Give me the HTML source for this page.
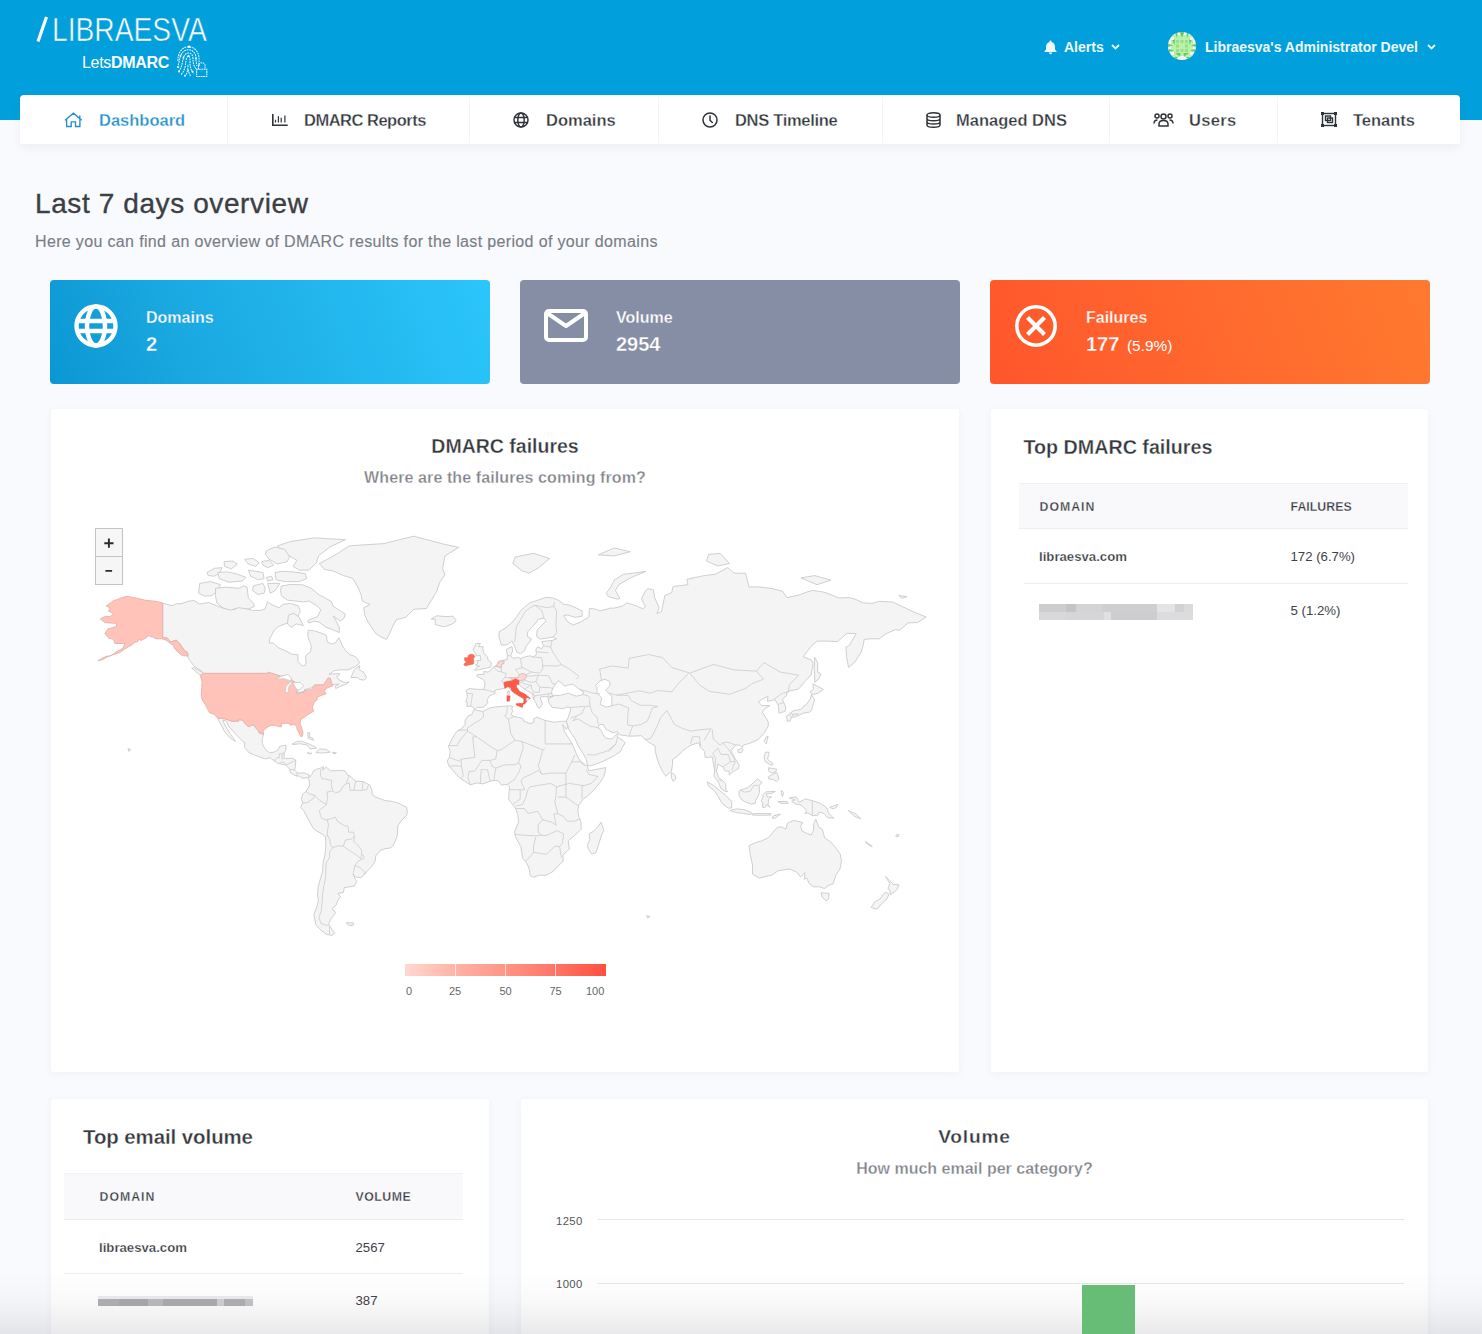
<!DOCTYPE html>
<html><head><meta charset="utf-8">
<style>
*{margin:0;padding:0;box-sizing:border-box}
html,body{width:1482px;height:1334px;overflow:hidden;background:#f9fafd;font-family:"Liberation Sans",sans-serif;color:#3b3f45}
.a{position:absolute;white-space:nowrap}
svg{position:absolute;overflow:visible}
#hdr{position:absolute;left:0;top:0;width:1482px;height:120px;background:#01a0dc}
#nav{position:absolute;left:20px;top:95px;width:1440px;height:49px;background:#fff;border-radius:4px 4px 1px 1px;box-shadow:0 4px 10px rgba(60,60,90,.06)}
.sep{position:absolute;top:2px;width:1px;height:46px;background:#f4f4f7}
.ni{position:absolute;top:110.5px;font-size:16.5px;line-height:18px;font-weight:bold;color:#33373c;white-space:nowrap;-webkit-text-stroke:0.3px #fff}
.card{position:absolute;background:#fff;border-radius:3px;box-shadow:0 2px 8px rgba(60,60,100,.05)}
.stat{position:absolute;top:280px;width:440px;height:103.5px;border-radius:4px;color:#fff}
.stat .t{position:absolute;left:96px;top:29px;font-size:16px;line-height:18px;font-weight:bold}
.stat .v{position:absolute;left:96px;top:52.5px;font-size:20px;line-height:22px;font-weight:bold}
.th{font-size:12.3px;line-height:14px;font-weight:bold;color:#33373c;-webkit-text-stroke:0.3px #f9f9fc}
.td{font-size:13.2px;line-height:15px;color:#3f4248}
.td.b{font-weight:bold;-webkit-text-stroke:0.25px #fff;color:#33373c}
.blur{position:absolute;background:linear-gradient(90deg,#d9d9dc 0%,#cfcfd3 20%,#dcdcdf 30%,#d3d3d6 60%,#e4e4e6 75%,#d5d5d8 85%,#dedee0 100%)}
</style></head><body>
<div id="hdr"></div>
<!-- logo -->
<svg style="left:0;top:0" width="60" height="50"><path d="M38 41.5 L46.5 17" stroke="#fff" stroke-width="3.2"/></svg><div class="a" style="left:52px;top:12px;font-size:33px;line-height:36px;color:#fff;transform:scaleX(0.855);transform-origin:0 0;-webkit-text-stroke:0.6px #01a0dc">LIBRAESVA</div>
<div class="a" style="left:82px;top:53.5px;font-size:16px;line-height:18px;color:#fff;letter-spacing:-0.3px">Lets<b>DMARC</b></div>
<svg style="left:176px;top:45px" width="32" height="33" viewBox="0 0 32 33">
 <g fill="none" stroke="#e6f7fd" stroke-width="1.05" stroke-dasharray="1.8 0.8">
  <path d="M2 16 C1.5 8 6 1.8 12.5 1.8 C19 1.8 23 7.5 23 14 V20.5"/>
  <path d="M1.5 22.5 C3 19 3 15 4.5 11 C6.5 6.5 9 4.8 12.5 4.8 C17 4.8 20 8.5 20 13.5 C20 16 20.5 19 21 21"/>
  <path d="M2.5 26.5 C6 23 6 18 7.5 12.5 C8.5 9.5 10.5 8 12.5 8 C15.5 8 17 10.5 17 14 C17 18 18 21.5 20 24"/>
  <path d="M5 29.5 C9 26 9.5 20 10 15.5 C10.5 12.5 11.5 11 12.8 11.2 C14.2 11.5 14 15 14 18 C14 22 15 25.5 18 28.5"/>
  <path d="M8.5 31.5 C11.5 29 12 24 12 19 M14.5 31 C13.5 29 12.5 27 12.2 24"/>
 </g>
 <g fill="#fff"><circle cx="13" cy="1.8" r="1.3"/><circle cx="4.5" cy="11" r="0.9"/><circle cx="7.5" cy="12.5" r="0.9"/><circle cx="12.5" cy="11" r="1"/><circle cx="20" cy="13.5" r="0.9"/><circle cx="2.3" cy="22.3" r="1"/><circle cx="3" cy="26.5" r="1"/><circle cx="16.5" cy="26.5" r="1"/><circle cx="9" cy="30.5" r="0.8"/><circle cx="22.8" cy="20.5" r="0.8"/></g>
 <path d="M22.5 24.2 v-3.2 a3.3 3.3 0 0 1 6.6 0 v3.2" fill="none" stroke="#e6f7fd" stroke-width="1.05" stroke-dasharray="1.6 0.7"/>
 <rect x="20.6" y="24.3" width="10.2" height="7.2" fill="none" stroke="#e6f7fd" stroke-width="1.05" stroke-dasharray="1.8 0.6"/>
</svg>
<!-- alerts -->
<svg style="left:1044px;top:40px" width="13" height="14" viewBox="0 0 13 14">
 <path d="M6.5 0.5 a1 1 0 0 1 1 1 v0.5 C9.8 2.6 11 4.5 11 7 v2.6 l1.5 1.6 v0.8 H0.5 v-0.8 L2 9.6 V7 C2 4.5 3.2 2.6 5.5 2 V1.5 a1 1 0 0 1 1-1z M4.8 12.6 h3.4 a1.7 1.7 0 0 1 -3.4 0z" fill="#eef8fd"/>
</svg>
<div class="a" style="left:1064px;top:38.5px;font-size:14px;line-height:17px;font-weight:bold;color:#eef8fd">Alerts</div>
<svg style="left:1111px;top:44px" width="9" height="6" viewBox="0 0 9 6"><path d="M1 1 L4.5 4.5 L8 1" fill="none" stroke="#eef8fd" stroke-width="1.8"/></svg>
<!-- avatar -->
<svg style="left:1168px;top:32px" width="28" height="28" viewBox="0 0 28 28">
 <defs><clipPath id="av"><circle cx="14" cy="14" r="14"/></clipPath></defs>
 <g clip-path="url(#av)">
  <rect width="28" height="28" fill="#eefcea"/>
  <rect x="3" y="3" width="22" height="22" fill="#b8f2a6"/>
  <g fill="#9ade8c"><rect x="8" y="8" width="3" height="3"/><rect x="12.5" y="8" width="3" height="3"/><rect x="17" y="8" width="3" height="3"/><rect x="8" y="12.5" width="3" height="3"/><rect x="17" y="12.5" width="3" height="3"/><rect x="8" y="17" width="3" height="3"/><rect x="12.5" y="17" width="3" height="3"/><rect x="17" y="17" width="3" height="3"/></g>
  <g fill="#6cc274">
   <path d="M11.5 0 H16.5 L14 5.5Z M7 1 L9.5 1 L9 6Z M18.5 1 L21 1 L19 6Z"/>
   <path d="M4 7.5 L7 7.5 L6.5 13Z M24 7.5 L21 7.5 L21.5 13Z"/>
   <path d="M0 11.5 L5 13.5 L0 15Z M28 11.5 L23 13.5 L28 15Z M1 17 L6 18.5 L1 20Z M27 17 L22 18.5 L27 20Z"/>
   <path d="M7 21 H12.5 L12 24.5 Z M15.5 21 H21 L16 24.5Z M6 25 L10 25 L8 28Z M18 25 L22 25 L20 28Z"/>
  </g>
  <g fill="#f6eef6"><rect x="3" y="5" width="3" height="3"/><rect x="22" y="5" width="3" height="3"/><rect x="3" y="20" width="3" height="3"/><rect x="22" y="20" width="3" height="3"/><rect x="12" y="24" width="4" height="3"/></g>
 </g>
</svg>
<div class="a" style="left:1205px;top:38.5px;font-size:14px;line-height:17px;font-weight:bold;color:#eef8fd">Libraesva's Administrator Devel</div>
<svg style="left:1427px;top:44px" width="9" height="6" viewBox="0 0 9 6"><path d="M1 1 L4.5 4.5 L8 1" fill="none" stroke="#eef8fd" stroke-width="1.8"/></svg>

<div id="nav">
 <div class="sep" style="left:207px"></div>
 <div class="sep" style="left:449px"></div>
 <div class="sep" style="left:638px"></div>
 <div class="sep" style="left:862px"></div>
 <div class="sep" style="left:1089px"></div>
 <div class="sep" style="left:1257px"></div>
</div>
<!-- nav icons & labels (absolute page coords) -->
<svg style="left:64px;top:112px" width="19" height="16" viewBox="0 0 19 16">
 <path d="M1 8.2 L9.4 1.2 L17.7 8.2 M2.6 6.8 V14.5 H7.2 V9.9 H11.5 V14.5 H15.9 V6.8 M15.8 3.4 V6.2" fill="none" stroke="#2290c9" stroke-width="1.35" stroke-linejoin="miter"/>
</svg>
<div class="ni" style="left:99px;color:#2391ca">Dashboard</div>
<svg style="left:272px;top:114px" width="16" height="12" viewBox="0 0 16 12">
 <path d="M0.8 0 V11.3 H15.7" fill="none" stroke="#2f3338" stroke-width="1.6"/><path d="M3.5 5.8 V8.6 M6.4 2.2 V8.6 M9.2 3.8 V8.6 M12.9 1.4 V8.6" fill="none" stroke="#2f3338" stroke-width="1.2"/>
</svg>
<div class="ni" style="left:304px;letter-spacing:-0.5px">DMARC Reports</div>
<svg style="left:513px;top:112px" width="16" height="16" viewBox="0 0 16 16">
 <g fill="none" stroke="#2f3338" stroke-width="1.5"><circle cx="8" cy="8" r="7"/><ellipse cx="8" cy="8" rx="3.2" ry="7"/><path d="M1 5.6 H15 M1 10.4 H15"/></g>
</svg>
<div class="ni" style="left:546px">Domains</div>
<svg style="left:702px;top:112px" width="16" height="16" viewBox="0 0 16 16">
 <g fill="none" stroke="#2f3338" stroke-width="1.5" stroke-linecap="round"><circle cx="8" cy="8" r="7"/><path d="M8 4 V8.3 L10.3 10.5"/></g>
</svg>
<div class="ni" style="left:735px;letter-spacing:-0.3px">DNS Timeline</div>
<svg style="left:926px;top:112px" width="15" height="16" viewBox="0 0 15 16">
 <g fill="none" stroke="#2f3338" stroke-width="1.5"><ellipse cx="7.5" cy="3" rx="6.5" ry="2.3"/><path d="M1 3 V13 C1 14.3 3.9 15.3 7.5 15.3 C11.1 15.3 14 14.3 14 13 V3 M1 6.4 C1 7.7 3.9 8.7 7.5 8.7 C11.1 8.7 14 7.7 14 6.4 M1 9.8 C1 11.1 3.9 12.1 7.5 12.1 C11.1 12.1 14 11.1 14 9.8"/></g>
</svg>
<div class="ni" style="left:956px;letter-spacing:0px">Managed DNS</div>
<svg style="left:1153px;top:113px" width="21" height="14" viewBox="0 0 21 14">
 <g fill="none" stroke="#2f3338" stroke-width="1.5"><circle cx="10.5" cy="3.5" r="2.5"/><circle cx="4" cy="3" r="2"/><circle cx="17" cy="3" r="2"/><path d="M6 13 V11 C6 8.8 8 7.5 10.5 7.5 C13 7.5 15 8.8 15 11 V13 Z M1 10.5 C1 8 2.5 7 4.5 7 M20 10.5 C20 8 18.5 7 16.5 7"/></g>
</svg>
<div class="ni" style="left:1189px;letter-spacing:0.3px">Users</div>
<svg style="left:1321px;top:112px" width="16" height="15" viewBox="0 0 16 15">
 <g fill="none" stroke="#2f3338" stroke-width="1.4"><rect x="1.5" y="1.5" width="13" height="12"/><rect x="4.5" y="4" width="5" height="4.5"/><rect x="6.5" y="6" width="5" height="4.5"/></g>
 <g fill="#2f3338"><rect x="0" y="0" width="3" height="3"/><rect x="13" y="0" width="3" height="3"/><rect x="0" y="12" width="3" height="3"/><rect x="13" y="12" width="3" height="3"/></g>
</svg>
<div class="ni" style="left:1353px">Tenants</div>

<div class="a" style="left:35px;top:188px;font-size:28px;line-height:32px;color:#3c3f44;letter-spacing:0.6px;-webkit-text-stroke:0.35px #3c3f44">Last 7 days overview</div>
<div class="a" style="left:35px;top:233px;font-size:16px;line-height:18px;color:#7a7e85;letter-spacing:0.35px;-webkit-text-stroke:0.15px #7a7e85">Here you can find an overview of DMARC results for the last period of your domains</div>

<div class="stat" style="left:50px;background:linear-gradient(70deg,#0b97d3 0%,#1aa8e0 30%,#2bc6fb 100%)">
  <svg style="left:24px;top:24px" width="44" height="44" viewBox="0 0 44 44">
   <g fill="none" stroke="#fff" stroke-width="4.4"><circle cx="22" cy="22" r="19.5"/><ellipse cx="22" cy="22" rx="9" ry="19.5"/><path d="M3 17 H41 M3 27 H41"/></g>
  </svg>
  <div class="t" style="-webkit-text-stroke:0.3px #1aa2dc">Domains</div><div class="v" style="-webkit-text-stroke:0.3px #1aa2dc">2</div>
</div>
<div class="stat" style="left:520px;background:#858ea4">
  <svg style="left:24px;top:29px" width="44" height="33" viewBox="0 0 44 33">
   <rect x="2" y="2" width="40" height="29" rx="3" fill="none" stroke="#fff" stroke-width="4"/>
   <path d="M3 4 L22 17 L41 4" fill="none" stroke="#fff" stroke-width="4" stroke-linejoin="round"/>
  </svg>
  <div class="t" style="-webkit-text-stroke:0.3px #858ea4">Volume</div><div class="v" style="-webkit-text-stroke:0.3px #858ea4">2954</div>
</div>
<div class="stat" style="left:990px;background:linear-gradient(70deg,#ff562c 0%,#ff7a2f 100%)">
  <svg style="left:24px;top:24px" width="44" height="44" viewBox="0 0 44 44">
   <circle cx="22" cy="22" r="19.2" fill="none" stroke="#fff" stroke-width="3.6"/>
   <path d="M15 15 L29 29 M29 15 L15 29" stroke="#fff" stroke-width="4.2" stroke-linecap="square"/>
  </svg>
  <div class="t" style="-webkit-text-stroke:0.3px #ff6230">Failures</div><div class="v" style="-webkit-text-stroke:0.3px #ff6230">177 <span style="font-size:15.4px;font-weight:normal;margin-left:2px;-webkit-text-stroke:0">(5.9%)</span></div>
</div>

<div class="card" style="left:51px;top:409px;width:908px;height:663px"></div>
<div class="card" style="left:991px;top:409px;width:437px;height:663px"></div>
<div class="card" style="left:51px;top:1099px;width:438px;height:300px"></div>
<div class="card" style="left:521px;top:1099px;width:907px;height:300px"></div>

<!-- DMARC failures card -->
<div class="a ctr" style="left:51px;width:908px;top:434.5px;font-size:19.5px;line-height:22px;font-weight:bold;color:#35393e;text-align:center;-webkit-text-stroke:0.3px #fff">DMARC failures</div>
<div class="a ctr" style="left:51px;width:908px;top:469px;font-size:16px;line-height:18px;font-weight:bold;color:#7f838a;letter-spacing:0.1px;text-align:center;-webkit-text-stroke:0.3px #fff">Where are the failures coming from?</div>
<!--MAP--><svg style="left:0;top:0" width="1482" height="1334" viewBox="0 0 1482 1334"><g fill="#f4f4f4" stroke="#cbcbcb" stroke-width="0.9" stroke-linejoin="round"><path d="M162.7 603.1 L171.9 605.7 L176.5 603.7 L181.1 603.7 L188.0 601.3 L194.0 600.5 L199.5 604.1 L208.8 602.5 L216.8 605.7 L223.7 608.5 L234.1 609.7 L238.7 606.9 L244.5 608.1 L252.5 610.4 L260.6 610.4 L265.2 608.9 L267.5 601.7 L272.1 604.9 L279.0 607.7 L282.5 604.5 L290.5 603.3 L298.6 606.1 L300.2 611.6 L297.9 616.2 L289.4 616.6 L287.6 622.9 L278.3 626.5 L274.4 630.1 L270.0 638.1 L269.1 642.8 L273.3 643.1 L279.0 648.1 L284.8 650.4 L291.7 654.2 L297.9 654.8 L298.1 661.4 L302.1 666.0 L305.1 665.4 L306.0 662.9 L305.5 655.8 L310.6 651.7 L311.3 645.8 L309.2 640.5 L307.8 636.0 L308.3 630.1 L315.9 631.2 L321.6 633.3 L326.3 635.3 L327.4 642.1 L331.3 644.1 L335.5 642.8 L338.9 637.7 L342.4 645.5 L345.6 650.7 L349.8 654.5 L355.5 656.7 L359.0 661.4 L359.2 663.5 L355.7 666.3 L348.1 669.9 L339.6 669.9 L333.9 670.8 L329.0 674.3 L339.2 673.4 L339.6 674.9 L336.6 676.3 L338.7 679.8 L345.8 682.9 L349.3 681.8 L346.5 684.1 L341.2 686.0 L335.7 688.5 L335.0 686.3 L338.9 684.1 L333.2 684.6 L331.3 682.9 L330.4 678.4 L328.1 678.1 L324.4 683.8 L322.8 684.9 L314.7 684.9 L311.3 688.8 L305.5 689.7 L303.7 692.4 L296.1 693.2 L297.5 690.5 L297.7 684.1 L292.6 680.7 L284.8 675.5 L281.1 676.3 L268.2 672.2 L268.2 673.4 L203.5 673.4 L202.5 671.7 L198.4 669.0 L193.8 666.0 L191.5 662.6 L188.0 657.7 L188.0 656.1 L187.6 652.3 L183.9 650.0 L180.2 644.1 L176.3 640.1 L170.7 642.1 L167.1 637.7 L162.7 637.7Z"/><path d="M203.5 675.5 L199.5 674.6 L191.7 668.1 L194.2 667.8 L201.8 672.2Z"/><path d="M350.9 677.5 L352.8 673.1 L355.3 668.7 L359.7 665.7 L359.0 669.6 L364.0 672.5 L365.9 676.3 L366.3 677.8 L364.3 680.1 L359.7 679.5 L357.4 677.5Z"/><path d="M319.3 563.5 L335.5 554.9 L349.3 545.8 L383.9 543.6 L413.8 536.2 L441.5 543.6 L458.7 547.4 L444.9 555.9 L442.6 568.5 L444.9 574.7 L439.6 582.5 L436.8 591.2 L431.8 599.6 L426.5 608.5 L413.8 609.3 L405.7 617.3 L396.5 619.6 L392.6 626.5 L389.2 634.7 L386.4 639.4 L380.4 636.7 L375.8 633.6 L371.2 626.5 L368.0 622.2 L364.7 614.7 L363.8 607.7 L370.0 604.5 L362.0 600.9 L361.3 595.5 L358.5 588.2 L352.8 578.4 L343.5 575.6 L332.7 570.9 L324.4 569.4Z"/><path d="M435.2 619.2 L431.1 619.2 L436.8 615.8 L446.1 616.6 L453.0 616.2 L456.2 620.7 L453.0 623.6 L444.4 626.9 L437.8 625.4 L435.2 624.4Z"/><path d="M217.7 718.2 L223.0 718.2 L231.8 721.2 L238.2 721.2 L238.2 719.9 L242.2 719.9 L246.8 725.4 L249.5 726.9 L250.9 725.2 L253.9 724.9 L256.4 728.7 L258.3 730.6 L259.0 732.8 L263.6 734.4 L262.4 738.4 L262.2 743.2 L263.4 746.3 L266.4 750.3 L269.6 752.9 L274.4 752.0 L278.3 749.9 L279.5 746.3 L285.9 745.1 L285.9 749.9 L284.3 752.9 L284.1 757.1 L285.2 758.5 L292.9 758.3 L295.8 760.4 L295.2 767.4 L294.7 769.7 L297.5 773.1 L304.4 772.9 L309.2 774.9 L309.7 776.8 L307.4 777.7 L302.3 778.2 L299.8 776.3 L294.9 775.6 L290.1 772.2 L289.9 769.2 L285.5 765.0 L280.6 763.9 L276.7 762.7 L274.4 760.9 L269.8 757.6 L265.2 758.8 L260.6 757.4 L253.7 754.6 L249.1 752.7 L244.5 747.5 L244.9 742.7 L242.4 741.1 L237.6 736.2 L232.9 730.6 L229.0 726.9 L226.7 721.4 L223.0 719.9 L223.5 722.4 L226.7 728.2 L230.6 734.3 L233.6 738.7 L235.5 741.3 L233.6 740.6 L229.3 737.2 L224.2 730.9 L221.2 724.9 L218.7 720.4Z"/><path d="M291.9 744.2 L297.5 741.3 L302.1 741.3 L309.7 744.4 L313.4 746.1 L316.6 748.2 L309.9 748.9 L307.4 745.1 L299.8 743.7 L295.2 744.4Z"/><path d="M316.1 752.2 L319.8 748.9 L326.3 749.4 L330.2 752.2 L324.9 752.9 L320.5 752.9 L316.1 752.7Z"/><path d="M307.1 752.7 L312.0 753.4 L309.7 754.1Z"/><path d="M332.7 752.2 L336.4 752.7 L335.5 753.6 L332.7 753.4Z"/><path d="M307.8 732.3 L310.1 733.1 L309.0 736.7 L312.4 737.9 L313.6 740.3 L308.3 738.4Z"/><path d="M128.1 748.2 L130.9 749.9 L128.6 751.3Z"/><path d="M309.7 776.8 L311.3 775.4 L313.6 770.8 L316.6 769.2 L321.2 767.8 L323.5 766.4 L322.6 770.1 L326.3 766.9 L330.4 770.8 L335.5 770.6 L341.9 770.4 L345.1 770.8 L347.5 775.2 L349.8 775.9 L355.7 781.1 L363.1 781.6 L367.7 783.9 L370.0 785.2 L371.9 790.7 L372.3 794.8 L375.8 797.1 L385.0 800.5 L391.9 801.4 L398.8 803.2 L406.4 807.3 L407.4 811.2 L406.7 815.3 L402.1 819.9 L397.9 825.5 L397.4 835.0 L395.4 840.9 L393.1 845.7 L390.8 847.8 L385.0 848.8 L380.4 850.4 L375.8 855.8 L375.1 861.4 L371.9 866.4 L367.3 870.9 L364.5 874.5 L361.0 877.5 L358.1 877.5 L354.4 876.3 L353.0 874.0 L355.3 879.1 L356.9 881.4 L354.4 886.1 L344.2 887.7 L343.5 892.3 L337.8 893.6 L340.5 896.6 L337.8 900.5 L336.4 904.7 L332.0 908.6 L335.7 912.7 L331.3 918.5 L328.6 923.6 L329.9 926.3 L334.6 933.2 L332.0 935.4 L326.3 934.4 L320.5 929.7 L315.9 925.1 L313.8 914.7 L316.6 907.5 L318.4 900.5 L317.5 895.0 L318.2 886.9 L320.3 879.1 L322.6 871.4 L323.0 862.7 L325.1 854.1 L325.8 845.7 L325.6 837.1 L322.8 834.5 L314.3 829.6 L311.7 825.7 L307.4 817.6 L303.7 810.7 L300.5 807.3 L302.8 802.8 L301.4 798.2 L303.2 793.7 L306.0 791.4 L309.4 786.1 L309.2 780.0 L308.1 778.4Z"/><path d="M346.3 922.7 L353.9 923.0 L352.8 925.7 L348.1 925.1Z"/><path d="M473.9 709.7 L482.9 711.5 L489.8 707.9 L494.4 707.1 L502.5 706.3 L510.1 705.8 L513.1 706.6 L511.5 708.4 L512.9 711.3 L511.0 714.4 L514.0 716.6 L518.6 717.4 L522.8 718.7 L523.9 721.2 L530.2 723.7 L533.8 722.2 L533.6 718.9 L537.1 717.2 L541.0 718.9 L545.1 720.4 L554.3 722.2 L561.3 721.4 L566.3 721.2 L567.9 725.7 L566.6 729.4 L562.6 724.7 L564.7 731.9 L569.3 739.1 L573.2 746.3 L576.2 753.4 L579.0 759.5 L583.1 763.0 L587.3 766.2 L588.9 770.8 L597.0 769.2 L605.7 767.6 L605.3 771.0 L603.9 776.6 L599.3 783.4 L594.7 789.1 L587.7 795.9 L583.1 799.3 L578.8 805.0 L577.8 810.7 L579.0 817.6 L580.8 821.1 L581.3 829.2 L573.9 836.2 L568.2 840.9 L569.3 849.2 L563.1 854.8 L563.1 861.4 L559.0 865.1 L553.2 871.4 L546.3 875.2 L539.4 875.2 L533.6 877.3 L530.2 875.7 L529.5 870.1 L527.2 863.9 L522.5 857.7 L520.9 846.8 L515.2 836.2 L514.7 831.5 L518.6 822.2 L517.9 815.3 L515.6 808.5 L508.7 799.3 L509.0 792.5 L509.6 786.8 L507.1 784.5 L501.4 785.0 L497.9 780.4 L491.0 780.9 L482.9 783.9 L477.2 782.9 L470.3 784.8 L464.5 781.1 L461.0 778.8 L457.1 775.4 L451.8 769.0 L449.1 766.4 L447.2 761.1 L449.5 756.9 L450.2 751.0 L448.4 746.3 L452.5 737.9 L456.4 731.9 L461.5 728.9 L465.2 724.4 L465.0 720.4 L467.9 716.1 L471.9 714.4Z"/><path d="M601.1 822.2 L603.9 830.3 L601.6 835.0 L598.6 844.5 L596.0 852.6 L591.7 854.1 L588.2 849.0 L587.5 844.5 L589.8 839.7 L589.1 833.8 L593.5 831.3 L597.9 826.8Z"/><path d="M474.6 709.2 L473.0 707.1 L470.5 706.1 L467.0 706.6 L467.3 702.1 L465.6 701.8 L467.3 697.3 L467.0 693.2 L466.1 690.5 L469.1 688.5 L477.2 689.4 L483.4 689.4 L484.8 686.0 L484.8 681.5 L482.2 678.9 L476.7 676.3 L477.2 674.6 L484.1 674.3 L483.8 671.4 L488.0 672.2 L491.0 669.9 L493.3 667.2 L496.7 666.3 L498.6 661.7 L503.4 660.2 L507.1 659.5 L507.3 655.2 L506.4 649.4 L512.0 646.5 L512.6 651.0 L510.6 655.8 L512.9 658.3 L518.6 657.4 L520.5 658.6 L525.5 656.7 L530.2 655.8 L533.1 657.0 L536.4 654.5 L535.9 649.4 L537.5 646.8 L541.7 648.7 L543.5 645.8 L541.7 641.5 L552.0 640.5 L556.6 638.8 L553.2 637.1 L540.1 639.1 L536.6 636.4 L537.1 630.1 L546.0 621.1 L544.0 618.1 L538.2 619.2 L535.9 622.9 L531.3 627.6 L527.8 631.9 L527.2 636.4 L531.3 638.8 L530.2 641.1 L525.5 647.1 L524.9 650.4 L520.5 653.6 L517.0 652.3 L514.7 646.5 L512.0 641.1 L507.1 644.8 L501.4 645.1 L499.0 637.1 L499.0 631.9 L506.0 627.6 L511.7 622.9 L516.3 617.3 L520.9 610.4 L524.4 607.3 L530.2 602.5 L535.9 600.9 L546.3 597.2 L553.2 598.0 L559.0 600.5 L563.6 604.1 L570.5 605.3 L582.0 610.8 L582.0 616.2 L575.1 617.3 L567.7 615.1 L563.6 615.4 L567.0 621.1 L572.8 625.1 L579.7 622.5 L588.9 617.0 L589.4 608.5 L594.7 608.9 L600.4 610.8 L610.8 608.1 L614.2 608.1 L622.3 606.1 L626.9 602.9 L636.1 605.7 L643.0 608.9 L645.3 606.5 L641.4 598.8 L645.3 591.2 L647.7 588.6 L653.4 589.9 L654.6 597.6 L659.2 607.7 L656.9 613.5 L661.5 611.6 L664.9 595.5 L671.8 592.5 L673.0 586.5 L688.0 584.7 L686.8 579.3 L704.1 575.6 L715.6 574.2 L727.8 567.5 L734.0 573.2 L745.6 573.2 L749.0 586.9 L759.4 586.9 L772.1 588.6 L782.4 591.2 L787.0 597.6 L798.6 595.1 L807.8 591.7 L812.4 590.4 L823.9 592.1 L833.1 595.5 L838.9 598.0 L849.2 597.6 L856.2 599.6 L863.1 602.9 L872.3 603.3 L879.2 601.3 L893.0 602.1 L902.2 606.5 L913.8 612.0 L926.0 617.0 L917.2 622.9 L916.7 622.5 L908.0 622.9 L899.9 630.1 L895.3 629.7 L886.1 633.6 L879.2 638.8 L870.0 638.8 L864.2 639.4 L863.1 645.5 L861.2 652.0 L855.0 662.0 L848.6 667.5 L846.5 656.7 L846.0 647.1 L849.2 645.5 L856.2 633.6 L846.9 633.3 L837.7 641.5 L826.2 641.1 L817.0 641.1 L811.2 646.1 L803.2 656.7 L811.2 659.9 L813.1 663.5 L811.2 674.9 L805.5 680.7 L798.6 689.1 L791.2 690.5 L787.0 691.9 L786.3 695.9 L782.4 699.2 L785.7 707.1 L785.2 711.3 L779.0 713.3 L778.5 707.1 L778.1 704.8 L775.1 699.7 L767.5 701.3 L767.9 696.2 L762.8 698.9 L758.5 701.6 L761.5 705.5 L770.0 705.5 L764.7 708.9 L762.4 712.3 L766.1 717.9 L768.4 722.2 L768.1 726.4 L764.0 733.1 L758.2 739.6 L750.2 743.2 L743.3 745.1 L742.1 747.5 L739.8 745.1 L735.9 745.1 L733.1 748.0 L731.1 751.3 L734.5 757.4 L739.1 765.0 L738.7 768.5 L733.4 771.3 L729.4 774.9 L729.0 771.3 L724.8 770.8 L723.2 766.9 L720.0 765.5 L718.2 763.9 L716.3 770.8 L717.5 773.8 L718.8 777.9 L721.4 779.5 L725.8 783.9 L725.8 789.6 L727.6 791.6 L726.0 791.8 L720.9 788.4 L718.8 782.9 L714.0 776.1 L714.7 770.8 L712.9 760.4 L712.4 756.9 L705.2 757.6 L704.6 751.5 L700.4 747.3 L699.0 742.7 L696.0 743.5 L691.4 744.9 L687.7 747.3 L682.9 750.6 L677.1 756.7 L672.5 759.5 L672.5 764.6 L671.4 771.3 L667.7 774.5 L666.1 776.3 L663.1 772.4 L659.6 765.5 L656.9 758.1 L655.3 751.0 L655.0 745.8 L648.8 742.3 L646.0 739.9 L641.2 735.7 L635.0 736.0 L629.2 736.2 L619.5 734.8 L617.2 731.6 L613.1 732.8 L606.2 729.6 L603.0 724.2 L599.3 724.7 L598.3 726.9 L601.8 731.9 L604.6 737.2 L606.4 738.4 L611.9 738.9 L617.2 733.6 L617.5 737.2 L622.8 740.3 L625.3 743.0 L622.1 747.5 L620.5 751.5 L614.2 755.7 L607.8 759.0 L600.4 762.5 L591.7 765.5 L587.7 766.0 L586.1 759.2 L583.1 753.4 L577.8 745.1 L575.1 738.7 L571.9 734.5 L568.6 729.2 L567.9 725.7 L566.3 721.2 L568.2 717.4 L570.2 711.0 L570.9 707.6 L567.0 707.1 L562.4 708.9 L557.8 707.9 L552.0 707.4 L548.8 702.4 L548.1 698.6 L554.1 695.9 L547.7 697.0 L542.8 696.5 L540.1 697.3 L542.4 704.0 L539.6 708.2 L537.5 706.9 L536.1 703.2 L533.8 699.7 L532.5 693.8 L524.4 689.1 L518.9 684.6 L515.9 684.1 L516.6 687.4 L519.6 691.6 L523.5 693.5 L530.2 698.4 L525.5 701.6 L523.7 704.0 L523.7 698.6 L520.2 696.5 L515.6 693.8 L511.7 690.8 L507.8 686.6 L504.8 688.3 L499.0 689.4 L494.9 690.2 L494.9 693.5 L489.6 695.9 L486.8 700.0 L488.0 702.1 L485.9 705.0 L482.7 707.4 L477.4 707.4Z"/><path d="M474.4 670.2 L479.5 669.6 L485.2 668.4 L490.8 666.9 L491.4 662.6 L488.2 660.2 L487.3 656.7 L483.8 653.3 L482.7 648.4 L483.4 646.8 L478.3 646.5 L480.4 643.5 L476.0 643.5 L474.4 647.1 L473.2 650.4 L475.8 653.6 L476.0 655.8 L480.2 655.5 L480.6 658.6 L480.6 660.5 L476.9 660.5 L477.9 663.5 L475.3 665.1 L479.7 666.3 L477.2 666.9Z"/><path d="M512.9 563.5 L522.1 570.9 L529.0 573.2 L538.2 568.0 L549.7 558.5 L533.6 553.3 L515.2 557.0Z"/><path d="M608.5 596.7 L617.7 599.2 L620.0 598.4 L615.4 590.4 L618.9 584.7 L630.4 577.9 L646.0 571.3 L636.1 572.8 L623.5 574.2 L614.2 580.2 L610.8 586.9 L606.2 593.4Z"/><path d="M706.4 561.0 L717.9 566.0 L729.4 563.5 L720.2 553.3 L708.7 554.4Z"/><path d="M800.9 577.9 L817.0 584.7 L830.8 580.2 L814.7 575.6Z"/><path d="M898.8 595.5 L906.8 596.7 L902.2 598.4Z"/><path d="M598.1 554.9 L614.2 555.9 L630.4 551.7 L614.2 548.0Z"/><path d="M814.7 657.4 L817.7 662.9 L817.7 672.2 L820.9 674.0 L818.1 679.8 L814.7 682.1 L814.7 674.9 L814.2 667.5Z"/><path d="M812.8 683.8 L823.4 689.4 L818.1 693.2 L812.4 694.6 L810.1 691.9 L813.5 689.1Z"/><path d="M811.5 694.6 L814.7 700.0 L812.4 706.6 L811.9 710.0 L809.6 712.0 L803.2 713.1 L798.6 715.6 L792.8 714.4 L789.3 713.6 L793.9 710.5 L800.9 709.5 L803.2 706.6 L806.6 704.2 L810.1 699.2Z"/><path d="M789.1 714.4 L791.6 716.9 L790.3 720.9 L787.5 721.4 L786.3 716.4Z"/><path d="M792.8 714.4 L797.9 713.8 L796.7 716.4 L792.8 717.4Z"/><path d="M768.1 736.2 L766.3 743.9 L764.2 741.5 L765.8 737.2Z"/><path d="M737.7 749.9 L741.7 748.4 L743.3 749.9 L741.0 752.9 L738.0 752.2Z"/><path d="M671.4 772.4 L675.3 775.4 L676.0 778.8 L673.0 781.4 L671.4 777.7Z"/><path d="M765.4 752.2 L769.1 752.2 L768.6 755.7 L767.5 759.2 L773.2 763.9 L772.1 765.5 L765.4 762.0 L764.0 758.1Z"/><path d="M768.6 776.6 L776.7 772.4 L779.0 778.8 L776.7 781.6 L773.2 779.5 L768.6 778.8Z"/><path d="M768.6 767.8 L773.2 768.5 L776.7 769.2 L775.5 772.0 L770.9 773.1 L768.6 770.8Z"/><path d="M707.1 782.0 L713.3 785.2 L719.1 790.2 L726.4 795.9 L731.7 801.6 L731.5 808.0 L728.3 808.2 L722.5 803.9 L718.6 797.1 L714.5 790.9 L708.7 786.4Z"/><path d="M729.9 810.3 L736.4 808.9 L743.3 809.6 L751.3 812.3 L751.1 814.6 L743.3 813.5 L736.4 812.6 L730.6 810.7Z"/><path d="M752.5 813.7 L761.7 813.5 L770.9 813.5 L770.9 815.1 L761.7 815.3 L752.5 815.1Z"/><path d="M773.2 816.0 L780.6 813.9 L775.5 818.1 L772.1 818.3Z"/><path d="M739.1 791.4 L740.0 790.0 L744.0 789.1 L747.9 787.5 L753.6 782.7 L757.5 778.8 L762.2 782.7 L759.2 785.2 L759.4 792.5 L758.2 795.9 L755.7 800.5 L755.2 803.4 L751.3 804.1 L744.4 801.6 L741.2 799.1 L738.9 795.5Z"/><path d="M762.8 794.8 L765.8 791.8 L775.3 791.4 L770.9 793.7 L766.3 793.7 L767.5 797.1 L771.6 796.8 L768.6 799.3 L768.1 805.0 L770.0 807.3 L766.8 804.6 L764.9 807.5 L762.6 807.3 L762.8 802.8 L761.2 801.2 L763.1 797.1Z"/><path d="M781.3 790.2 L783.6 792.5 L782.4 796.6 L781.3 793.7Z"/><path d="M777.8 801.6 L787.0 801.4 L788.2 803.4 L781.3 803.4Z"/><path d="M789.3 798.0 L796.3 796.8 L799.2 802.3 L805.5 798.9 L812.4 800.7 L820.4 803.4 L826.9 808.0 L828.5 813.0 L833.8 818.3 L827.4 817.6 L823.9 813.5 L819.3 812.1 L817.7 815.3 L812.4 815.6 L807.8 813.0 L805.0 813.7 L806.6 810.3 L800.9 805.0 L795.1 803.9 L791.6 801.2 L795.1 799.8Z"/><path d="M829.7 807.3 L837.7 804.4 L836.6 807.3 L833.1 808.9Z"/><path d="M848.1 810.3 L856.2 814.2 L860.8 818.8 L853.9 816.0Z"/><path d="M749.0 845.7 L750.4 855.3 L752.5 865.1 L752.5 874.2 L759.2 878.1 L772.1 875.0 L777.8 870.9 L789.3 868.9 L796.7 872.2 L800.6 877.0 L805.0 872.7 L804.3 879.3 L806.6 877.8 L809.4 883.8 L813.5 886.7 L819.3 886.9 L824.6 888.5 L829.0 885.1 L833.1 883.8 L835.9 875.0 L840.0 868.9 L841.4 861.4 L840.3 854.1 L835.0 846.8 L830.8 842.1 L824.6 837.8 L822.3 829.2 L818.8 827.3 L815.8 819.2 L813.8 823.6 L813.5 830.3 L811.2 835.0 L807.8 833.8 L802.0 831.0 L800.6 825.7 L802.7 822.7 L793.9 820.4 L787.5 823.1 L785.9 828.9 L781.3 826.8 L777.1 827.5 L771.6 833.8 L768.6 837.4 L761.7 840.9 L756.4 842.3Z"/><path d="M820.9 892.8 L829.2 893.4 L828.5 899.1 L826.0 900.8 L822.3 897.2Z"/><path d="M885.4 876.3 L889.6 880.4 L893.0 884.3 L898.8 884.8 L897.4 889.1 L894.9 891.5 L890.5 894.7 L889.8 889.9 L887.9 888.8 L889.8 883.5Z"/><path d="M885.4 892.3 L889.1 894.2 L886.8 899.1 L882.0 903.3 L876.9 909.2 L871.1 907.5 L874.6 901.9 L880.3 898.8 L883.8 893.6Z"/><path d="M865.4 841.4 L872.3 846.4 L871.1 846.4 L865.8 842.8Z"/><path d="M896.0 835.0 L899.0 834.5 L898.3 836.7 L896.0 836.7Z"/><path d="M646.5 915.6 L650.0 916.4 L647.7 918.2Z"/><path d="M509.2 690.5 L509.6 693.0 L508.7 694.9 L507.3 693.5 L507.3 691.6Z"/><path d="M290.8 541.5 L313.9 537.9 L345.5 539.7 L329.7 547.0 L318.8 555.5 L316.3 562.8 L309.0 570.1 L299.3 570.1 L293.2 566.4 L296.9 560.4 L290.8 556.7 L282.3 553.1 L277.5 545.8Z"/><path d="M266.5 550.6 L275.0 547.0 L284.7 549.4 L289.6 556.7 L287.2 561.6 L277.5 564.0 L269.0 559.2 L265.3 554.3Z"/><path d="M275.0 572.5 L282.3 571.3 L293.2 571.9 L305.4 573.7 L306.6 578.6 L299.3 581.6 L284.7 581.6 L276.2 579.8Z"/><path d="M261.7 561.6 L269.0 560.4 L273.8 565.2 L267.7 567.7 L262.9 565.2Z"/><path d="M266.5 577.4 L271.4 576.2 L273.2 579.8 L267.7 581.0Z"/><path d="M244.7 559.2 L253.2 558.5 L259.2 562.8 L255.6 566.4 L248.3 564.0Z"/><path d="M248.3 570.1 L255.6 571.3 L262.9 572.5 L264.1 578.6 L258.0 579.8 L250.7 576.2Z"/><path d="M224.0 561.6 L232.5 561.0 L237.4 564.0 L231.3 568.9 L224.6 566.4Z"/><path d="M207.0 572.5 L214.3 568.3 L222.2 567.7 L219.2 573.7 L214.3 576.2 L208.2 575.5Z"/><path d="M217.9 572.5 L226.4 571.9 L236.2 573.7 L245.9 577.4 L242.2 581.0 L228.9 582.2 L219.2 578.6Z"/><path d="M199.7 583.4 L210.6 581.6 L220.4 584.7 L217.9 590.7 L211.9 595.6 L204.6 596.2 L198.5 593.2Z"/><path d="M215.5 588.3 L226.4 587.1 L238.6 588.3 L243.4 585.9 L247.1 587.1 L248.3 598.0 L253.2 602.9 L254.4 606.5 L248.3 609.0 L238.6 607.7 L230.1 610.2 L222.8 607.7 L216.7 602.9 L215.5 595.6Z"/><path d="M253.2 585.9 L262.9 583.4 L265.3 588.3 L264.1 593.2 L258.0 594.4 L252.6 590.7Z"/><path d="M267.7 583.4 L279.9 583.4 L275.0 590.7 L270.2 593.2Z"/><path d="M281.4 586.1 L290.2 584.4 L302.5 584.8 L311.2 588.3 L319.1 594.9 L324.4 597.5 L331.4 601.5 L333.2 606.3 L340.2 610.7 L345.4 614.2 L343.7 618.6 L340.2 621.2 L333.2 616.0 L336.7 622.1 L339.3 627.4 L339.3 632.6 L331.4 629.1 L326.1 627.4 L319.1 622.1 L313.9 621.2 L308.6 623.0 L307.7 620.4 L317.4 616.8 L320.9 609.8 L317.4 606.3 L309.5 601.1 L303.3 601.9 L296.3 601.1 L287.5 600.2 L281.4 595.8 L280.5 590.5Z"/><path d="M288.4 615.1 L293.7 613.3 L298.9 616.8 L303.3 625.6 L296.3 623.9 L291.1 627.4 L287.5 623.9Z"/><path fill="#fff" d="M552.0 695.1 L554.3 695.4 L560.1 695.4 L568.2 693.2 L576.2 696.2 L583.1 694.6 L583.4 691.9 L576.2 686.9 L572.8 684.1 L568.6 684.9 L564.7 686.3 L562.4 683.8 L558.3 680.7 L555.7 684.1 L553.4 686.9 L551.6 691.6ZM600.4 680.7 L605.0 679.2 L609.6 681.5 L610.1 685.5 L605.7 689.9 L608.7 693.2 L611.9 696.5 L611.7 705.8 L606.2 707.1 L600.4 704.5 L601.6 697.8 L597.0 693.2 L597.0 687.7 L595.4 685.5Z"/></g><g fill="#ffc3b9" stroke="#e3b2aa" stroke-width="0.9" stroke-linejoin="round"><path d="M162.7 603.1 L155.8 601.3 L145.4 600.3 L137.3 598.2 L126.3 596.3 L120.1 598.4 L113.1 600.9 L106.2 606.1 L110.2 607.7 L108.5 611.2 L113.4 613.5 L110.2 616.6 L105.1 616.6 L100.2 618.8 L104.6 622.5 L108.5 622.9 L116.1 623.3 L116.8 626.2 L112.9 627.6 L107.8 629.0 L104.9 633.6 L109.0 638.4 L113.6 639.1 L114.8 643.5 L123.1 643.5 L125.1 642.5 L123.1 648.1 L116.1 652.0 L111.5 655.2 L107.6 656.7 L113.8 654.5 L119.6 652.6 L124.7 649.1 L128.4 646.8 L132.3 644.8 L134.3 642.5 L137.8 641.5 L138.9 639.1 L141.0 640.5 L145.2 638.4 L148.4 635.7 L152.8 637.1 L156.0 638.8 L161.5 638.8 L166.1 640.1 L170.5 643.5 L173.5 645.5 L174.4 648.4 L177.0 651.0 L180.4 654.5 L183.6 655.8 L188.0 656.1 L187.6 652.3 L183.9 650.0 L180.2 644.1 L176.3 640.1 L170.7 642.1 L167.1 637.7 L162.7 637.7ZM107.6 656.7 L102.8 659.5 L98.2 660.8 L101.6 658.6 L107.4 655.8ZM203.5 673.4 L268.2 673.4 L268.2 672.2 L281.1 676.3 L284.8 675.5 L292.6 680.7 L297.7 684.1 L297.5 690.5 L296.1 693.2 L303.7 692.4 L305.5 689.7 L311.3 688.8 L314.7 684.9 L322.8 684.9 L324.4 683.8 L328.1 678.1 L330.4 678.4 L331.3 682.9 L333.2 685.5 L329.7 686.9 L325.8 688.5 L324.6 691.6 L326.3 693.8 L322.8 694.9 L317.3 697.0 L317.0 700.0 L314.7 701.6 L313.4 704.2 L312.4 706.9 L313.6 711.3 L310.1 713.1 L305.5 716.4 L300.9 719.4 L300.0 723.2 L301.8 728.4 L303.0 733.1 L302.3 736.2 L300.7 736.5 L299.1 733.1 L297.0 729.4 L296.8 726.4 L294.0 724.2 L290.8 725.2 L288.2 723.4 L284.8 723.2 L281.1 723.9 L281.6 726.9 L279.0 726.7 L275.6 725.4 L271.0 725.4 L268.7 726.4 L265.2 728.9 L263.1 731.1 L263.6 734.4 L259.0 732.8 L258.3 730.6 L256.4 728.7 L253.9 724.9 L250.9 725.2 L249.5 726.9 L246.8 725.4 L242.2 719.9 L238.2 719.9 L238.2 721.2 L231.8 721.2 L223.0 718.2 L217.7 718.2 L214.5 714.4 L209.7 712.8 L206.7 707.6 L205.3 704.5 L202.3 700.0 L201.4 697.6 L201.4 693.2 L201.8 687.7 L202.1 681.5 L200.2 675.5Z"/></g><path fill="#fff" stroke="#c9c9c9" stroke-width="0.8" d="M275.6 680.1 L281.3 676.3 L288.2 674.3 L292.2 679.2 L289.4 680.7 L283.6 678.4ZM285.2 692.7 L285.9 686.3 L290.5 682.1 L292.4 682.7 L288.9 686.3 L288.2 692.4ZM292.6 682.7 L300.2 682.4 L303.7 686.0 L299.3 689.9 L297.7 690.2 L295.4 687.4 L293.8 684.4ZM295.6 693.8 L300.9 692.4 L305.8 690.8 L302.1 691.9 L296.3 694.6ZM304.1 689.7 L311.7 687.7 L312.0 689.4 L305.5 689.9Z"/><g stroke="#d9a49b" stroke-width="0.6"><path fill="#f8d9d4" d="M495.4 666.3 L497.2 666.3 L501.1 668.1 L501.6 664.8 L503.9 663.5 L504.1 660.5 L498.6 661.4 L497.9 663.5ZM509.4 677.8 L511.7 679.5 L515.6 678.9 L519.1 680.7 L522.1 680.4 L524.6 679.8 L526.7 676.3 L526.5 674.6 L522.1 673.4 L519.3 674.6 L517.5 677.8 L511.0 677.5Z"/></g><g fill="#ff5a45" stroke="#e05a48" stroke-width="0.6"><path d="M504.8 688.3 L503.7 682.4 L507.1 681.5 L511.7 680.7 L515.6 678.9 L519.1 680.7 L518.9 684.6 L515.9 684.1 L516.6 687.4 L519.6 691.6 L523.5 693.5 L524.9 694.0 L530.2 698.4 L526.7 697.3 L525.5 700.2 L526.9 701.3 L524.6 704.0 L523.7 704.0 L524.2 700.2 L523.7 698.6 L520.2 696.5 L515.6 693.8 L511.7 690.8 L510.8 687.7 L507.8 686.6ZM516.1 703.7 L523.5 703.2 L522.3 707.4 L516.3 705.0ZM506.9 695.7 L510.1 695.9 L509.6 700.8 L506.9 701.3 L507.1 697.8Z"/></g><g fill="#ff6b57" stroke="#e06b58" stroke-width="0.6"><path d="M473.7 663.9 L473.5 658.6 L474.9 656.4 L473.2 654.5 L470.3 654.2 L468.2 655.5 L467.9 657.7 L464.5 657.7 L464.7 660.5 L466.3 662.0 L463.8 664.2 L465.2 666.0 L468.6 665.1Z"/></g><path fill="none" stroke="#cbcbcb" stroke-width="0.8" stroke-linejoin="round" d="M275.1 761.6 L275.1 759.7 L276.7 757.8 L279.3 757.8 L279.0 753.9 L282.0 753.9 L284.1 752.5M282.0 753.9 L282.0 758.3 L284.3 758.8M279.9 763.4 L281.8 761.8 L284.3 762.7 L286.4 765.0M286.4 765.0 L290.5 762.7 L295.8 760.4M290.1 769.4 L294.7 769.9M296.5 776.6 L297.2 772.9M309.2 774.9 L309.7 776.8M320.7 769.4 L320.5 775.4 L322.1 778.8 L326.3 779.1 L332.0 780.7 L331.3 784.5 L332.7 790.9M349.3 775.4 L347.0 781.1 L346.3 783.9M332.7 790.9 L335.5 793.0 L340.1 791.4 L343.5 785.7 L346.3 783.9 L349.3 782.9 L350.2 790.7 L353.7 790.2 L359.7 790.5 L366.6 789.8 L368.4 785.2M355.7 781.1 L353.7 790.2M363.1 781.6 L362.2 789.8M332.7 790.9 L326.9 792.1 L327.6 797.5 L326.3 804.4M326.3 804.4 L319.6 800.3 L314.3 795.0 L309.2 793.9 L306.0 791.4M314.3 795.0 L313.6 798.4 L306.9 802.8 L302.8 802.8M326.3 804.4 L319.3 810.7 L321.2 817.6 L325.1 819.9 L327.4 819.7M327.4 819.7 L328.6 825.7 L327.4 830.3 L327.4 835.0 L325.6 837.1M327.4 819.7 L335.5 817.2 L337.1 821.1 L344.7 825.7 L348.1 826.4 L348.6 832.2 L353.4 832.2 L354.4 836.2M327.4 835.0 L329.7 839.7 L330.4 844.5 L332.7 847.6 L337.8 845.9 L343.3 846.1 L345.4 840.0 L351.4 839.2 L354.4 836.2M332.7 847.6 L329.7 851.7 L329.5 857.7 L326.3 862.7 L325.8 870.1 L325.6 877.8 L324.0 885.6 L322.6 893.6 L322.1 901.9 L321.4 910.3 L318.9 917.6 L321.0 923.6 L328.6 925.7M329.5 927.0 L329.5 934.1M354.4 836.2 L353.7 841.4 L359.0 846.4 L361.7 850.2 L361.7 854.1M343.3 846.1 L349.3 850.4 L354.8 853.8 L360.8 858.7 L361.7 854.1 L364.0 856.0 L363.6 858.5 L358.7 860.9 L354.8 865.6M354.8 865.6 L359.7 867.4 L364.3 871.4 L364.5 874.5M354.8 865.6 L353.4 872.7 L353.0 874.0M482.9 711.5 L483.6 716.9 L479.2 720.4 L467.5 727.7 L467.5 731.1 L476.5 736.7 L490.3 746.3 L497.2 750.6 L500.9 749.9 L514.9 740.3M467.5 730.1 L457.1 730.1M467.5 731.1 L459.9 740.3 L457.3 745.6 L448.4 745.6M476.5 736.7 L472.6 737.0 L474.9 757.4 L461.0 759.2 L459.4 761.3 L449.5 757.4M507.3 706.9 L506.7 712.8 L504.8 716.4 L508.3 719.2 L509.4 723.9 L510.6 733.1 L514.9 740.3M508.3 719.2 L514.0 716.6M545.1 720.4 L545.1 743.9 L572.8 743.9M514.9 740.3 L522.1 741.5 L542.8 749.9 L545.1 748.7M542.8 749.9 L539.4 762.7 L538.2 765.5 L541.7 774.3M522.1 741.5 L523.2 747.5 L518.6 762.7M497.2 750.6 L495.6 759.2 L489.8 760.4M474.9 770.8 L481.8 760.4 L489.8 760.4 L492.1 766.2 L495.8 768.1M495.8 768.1 L503.7 765.0 L515.2 764.6 L518.6 762.7M541.7 774.3 L549.7 773.1 L565.9 773.1 L571.6 762.0 L574.8 754.6M571.6 762.0 L579.7 761.6 L585.2 766.2M586.1 769.7 L588.9 774.3 L598.1 776.6 L591.2 783.4 L584.3 785.7 L582.0 785.7 L582.0 798.7M565.9 773.1 L565.9 784.3 L569.3 783.4 L583.8 785.7M565.9 784.3 L556.6 786.8 L550.7 783.4 L539.4 785.2 L530.2 786.8 L528.1 789.1 L525.5 798.2 L522.5 804.6 L515.6 806.2M565.9 797.1 L577.8 805.5M557.8 797.1 L565.9 797.1 L565.9 784.3M580.6 818.8 L573.9 821.3 L567.2 821.1 L563.6 816.5 L557.8 813.7M557.1 830.6 L563.6 833.8 L562.4 843.3 L559.6 846.6 L561.3 857.2M525.5 861.7 L533.6 852.4 L533.6 845.7 L535.9 836.9M533.6 852.4 L546.3 854.3 L555.0 846.1 L559.6 846.6M514.7 834.5 L534.8 835.9 L541.4 835.2 L545.8 835.7 L557.1 830.6M515.6 808.5 L524.4 808.5 L528.1 813.3 L537.8 811.4 L542.8 819.9 L538.2 824.5 L538.2 832.2 L541.4 835.2M542.8 819.9 L552.0 822.2 L556.2 825.2 L553.9 813.9 L557.8 813.7 L554.8 801.6 L555.7 797.7 L556.6 786.8M523.2 777.7 L531.3 774.3 L538.2 770.4 L541.7 774.3M520.9 781.1 L524.6 789.8M523.2 777.7 L520.9 781.1M507.1 784.3 L514.0 780.0 L519.1 772.0 L520.9 766.2 L518.6 762.7M509.9 789.6 L518.2 789.8 L524.6 789.8M520.2 789.8 L520.2 799.3 L513.3 803.7M480.4 783.2 L481.1 769.7 L487.5 769.7 L490.1 780.9M493.8 780.2 L495.8 768.1M470.3 784.8 L467.9 777.7 L469.1 771.5 L474.9 770.8M461.0 759.2 L461.5 766.4 L456.0 765.7 L449.1 766.4M461.0 778.8 L463.3 775.4 L461.5 766.4M483.4 689.4 L494.9 692.1M467.0 693.2 L472.6 693.8 L471.4 701.3 L470.5 706.1M493.3 667.2 L497.2 670.8 L501.6 672.0 L506.4 673.4 L504.8 677.5 L501.4 681.5 L503.7 682.4M504.8 677.5 L509.4 677.8M520.5 658.6 L521.4 664.5 L522.1 667.5 L515.6 669.6 L519.3 674.6M507.3 655.5 L510.3 655.8M504.1 660.5 L501.6 664.8 L501.1 668.1 L501.6 670.2 L501.6 672.0M497.2 666.3 L501.1 668.1M522.1 667.5 L526.7 669.6 L531.3 672.0 L539.6 673.1M541.7 657.7 L542.6 663.5 L542.8 669.0 L539.6 673.1M533.1 657.0 L541.7 657.7M526.5 674.6 L531.3 672.0M526.7 676.3 L533.6 675.8 L538.4 675.2M524.6 679.8 L530.8 682.4 L535.9 681.5 L538.4 675.2M538.4 675.2 L548.8 675.8 L552.5 683.5 L555.7 684.1M539.8 687.2 L549.7 687.7 L553.4 688.5M535.9 681.5 L539.8 687.2M540.1 695.1 L547.4 694.0 L552.0 693.2M547.7 697.0 L548.8 693.5M518.9 683.5 L524.6 681.0M522.5 683.5 L531.3 685.2 L531.8 689.1 L533.6 692.1 L539.4 692.4 L539.8 687.2M532.2 692.4 L534.8 695.9 L533.8 699.7M524.4 689.1 L531.3 685.2M534.8 695.9 L540.1 695.1M536.1 651.7 L548.8 652.9M543.5 645.8 L550.7 647.1M542.6 665.7 L557.8 666.0 L561.3 664.5M550.7 647.1 L552.7 652.0 L559.0 661.4 L561.3 664.5 L569.3 669.0 L579.0 676.3 L576.2 679.2M552.0 640.5 L550.7 647.1M553.2 637.1 L556.6 632.6 L556.0 624.7 L556.6 610.8 L553.7 606.5 L554.3 602.1M544.0 618.1 L541.7 610.4 L534.8 605.3 L547.0 607.7 L553.7 606.5M514.7 642.1 L515.6 635.3 L516.3 626.5 L520.9 619.2 L525.1 611.6 L530.2 607.7 L534.8 605.3M812.4 800.7 L812.4 815.6M740.0 790.0 L744.4 792.1 L750.2 791.4 L753.6 785.7 L758.2 785.2M775.5 816.0 L776.0 814.4M601.6 681.2 L599.7 669.0 L611.9 666.0 L628.1 668.1 L629.2 658.3 L648.8 654.5 L662.6 657.7 L671.8 667.5 L689.1 672.8M689.1 672.8 L677.6 684.4 L671.8 691.9 L658.0 690.5 L650.0 693.2 L639.6 690.8 L616.5 695.1 L608.7 693.2M616.5 695.1 L628.1 695.4 L631.5 700.8 L640.7 705.3 L651.1 705.3 L658.0 706.6M611.7 705.8 L618.9 704.0 L628.5 707.9 L627.8 715.6 L627.6 724.9 L632.7 725.9 L629.9 733.1 L629.5 736.2M632.7 725.9 L640.7 724.7 L647.2 721.2 L650.0 714.6 L652.3 707.9 L658.0 706.6M644.7 739.9 L651.1 738.2 L658.0 724.4 L660.3 718.2 L666.8 710.5M666.8 710.5 L671.8 719.4 L674.1 723.9 L681.1 727.9 L690.3 731.1 L699.5 729.9 L711.0 728.7M690.5 743.9 L692.6 736.7 L699.5 736.7 L700.6 746.3M704.1 740.3 L711.0 728.7M689.8 673.1 L699.5 684.9 L709.4 691.3 L729.4 694.3 L745.3 688.5 L752.5 683.5 L763.5 679.2 L756.4 671.1M689.8 673.1 L713.3 664.5 L734.0 669.9 L756.4 671.1 L764.0 662.6 L780.1 672.0 L798.6 675.2 L789.3 684.9 L788.4 692.1M774.1 699.2 L782.4 693.2 L788.4 692.1M777.8 704.5 L783.6 702.6M735.9 745.1 L727.1 742.0 L722.5 743.0 L720.2 745.1 L713.3 739.1 L712.2 729.4M714.5 772.0 L715.6 758.1 L712.9 753.4 L717.9 748.0 L720.7 754.3 L728.3 754.6 L730.6 761.6M723.2 766.9 L730.6 761.6 L735.2 761.6 L731.7 770.1M722.5 743.0 L728.3 748.7 L734.0 758.1 L735.2 761.6M718.8 780.0 L722.5 780.9M570.9 707.6 L575.1 707.1 L585.2 706.3 L590.1 706.1 L589.4 700.0M583.4 694.6 L587.7 695.7 L590.7 699.4M579.7 689.4 L594.7 693.5 L600.0 693.8M590.1 706.1 L592.4 713.1 L597.0 716.9 L598.3 724.4M585.2 706.3 L582.0 713.3 L576.9 715.9 L570.5 718.2M576.9 715.9 L572.8 720.7 L577.8 718.9 L590.5 726.4 L594.7 726.9 L599.0 728.2M587.3 754.6 L594.7 755.0 L607.3 751.0 L615.9 743.9 L608.7 751.8M615.9 743.9 L617.5 737.2"/></svg><!--/MAP-->
<div id="zoomc" style="position:absolute;left:94.5px;top:528px;width:28px;height:56.5px;border:1px solid #c4c4c8;background:#f6f6f6"></div>
<div style="position:absolute;left:94.5px;top:555.7px;width:28px;height:1px;background:#c4c4c8"></div>
<svg style="left:0;top:0" width="130" height="590"><path d="M104.3 543.2 H113.5 M108.9 538.6 V547.8 M105.4 570.9 H112.1" stroke="#2b2b2b" stroke-width="1.9"/></svg>
<div style="position:absolute;left:405px;top:964px;width:201px;height:12px;background:linear-gradient(90deg,#ffd8d1,#ffb3a6 25%,#ff9585 50%,#ff7464 75%,#ff4f3f)"></div>
<div style="position:absolute;left:455px;top:964px;width:1px;height:12px;background:#fff;opacity:.7"></div>
<div style="position:absolute;left:505px;top:964px;width:1px;height:12px;background:#fff;opacity:.7"></div>
<div style="position:absolute;left:555px;top:964px;width:1px;height:12px;background:#fff;opacity:.7"></div>
<div class="a" style="left:406px;top:985px;font-size:11px;line-height:12px;color:#666">0</div>
<div class="a" style="left:449px;top:985px;font-size:11px;line-height:12px;color:#666">25</div>
<div class="a" style="left:499.5px;top:985px;font-size:11px;line-height:12px;color:#666">50</div>
<div class="a" style="left:549.5px;top:985px;font-size:11px;line-height:12px;color:#666">75</div>
<div class="a" style="left:586px;top:985px;font-size:11px;line-height:12px;color:#666">100</div>

<!-- Top DMARC failures card -->
<div class="a" style="left:1023.5px;top:436px;font-size:19.7px;line-height:22px;font-weight:bold;color:#35393e;-webkit-text-stroke:0.3px #fff">Top DMARC failures</div>
<div style="position:absolute;left:1019px;top:483px;width:389px;height:46px;background:#f9f9fc;border-top:1px solid #f1f1f5;border-bottom:1px solid #eeeef2"></div>
<div class="a th" style="left:1039.5px;top:500px;letter-spacing:1px">DOMAIN</div>
<div class="a th" style="left:1290.5px;top:500px;letter-spacing:0.05px">FAILURES</div>
<div class="a td b" style="left:1039px;top:548.5px">libraesva.com</div>
<div class="a td" style="left:1290.5px;top:548.5px">172 (6.7%)</div>
<div style="position:absolute;left:1024px;top:583px;width:384px;height:1px;background:#eeeef2"></div>
<div style="position:absolute;left:1039px;top:604px;width:27px;height:8px;background:#cdcdcf"></div><div style="position:absolute;left:1066px;top:604px;width:10px;height:8px;background:#c4c4c8"></div><div style="position:absolute;left:1076px;top:604px;width:26px;height:8px;background:#d4d4d6"></div><div style="position:absolute;left:1102px;top:604px;width:55px;height:8px;background:#cfcfd1"></div><div style="position:absolute;left:1157px;top:604px;width:18px;height:8px;background:#e4e4e6"></div><div style="position:absolute;left:1175px;top:604px;width:9px;height:8px;background:#d2d2d4"></div><div style="position:absolute;left:1184px;top:604px;width:9px;height:8px;background:#dadadc"></div><div style="position:absolute;left:1039px;top:612px;width:27px;height:8px;background:#d8d8da"></div><div style="position:absolute;left:1066px;top:612px;width:38px;height:8px;background:#d6d6d8"></div><div style="position:absolute;left:1104px;top:612px;width:7px;height:8px;background:#e0e0e2"></div><div style="position:absolute;left:1111px;top:612px;width:46px;height:8px;background:#cdcdcf"></div><div style="position:absolute;left:1157px;top:612px;width:36px;height:8px;background:#dcdcde"></div>
<div class="a td" style="left:1290.5px;top:603px">5 (1.2%)</div>

<!-- Top email volume card -->
<div class="a" style="left:83px;top:1125.5px;font-size:20.4px;line-height:22px;font-weight:bold;color:#35393e;letter-spacing:-0.05px;-webkit-text-stroke:0.3px #fff">Top email volume</div>
<div style="position:absolute;left:64px;top:1173px;width:399px;height:47px;background:#f9f9fc;border-top:1px solid #f1f1f5;border-bottom:1px solid #eeeef2"></div>
<div class="a th" style="left:99.5px;top:1190px;letter-spacing:1px">DOMAIN</div>
<div class="a th" style="left:355.5px;top:1190px;letter-spacing:0.5px">VOLUME</div>
<div class="a td b" style="left:99px;top:1240px">libraesva.com</div>
<div class="a td" style="left:355.5px;top:1240px">2567</div>
<div style="position:absolute;left:64px;top:1273px;width:399px;height:1px;background:#eeeef2"></div>
<div style="position:absolute;left:98px;top:1296px;width:155px;height:3px;background:#ececee"></div><div style="position:absolute;left:98px;top:1299px;width:21px;height:7px;background:#b0b0b4"></div><div style="position:absolute;left:119px;top:1299px;width:29px;height:7px;background:#a9a9ad"></div><div style="position:absolute;left:148px;top:1299px;width:15px;height:7px;background:#bababe"></div><div style="position:absolute;left:163px;top:1299px;width:54px;height:7px;background:#acacb0"></div><div style="position:absolute;left:217px;top:1299px;width:7px;height:7px;background:#d0d0d2"></div><div style="position:absolute;left:224px;top:1299px;width:21px;height:7px;background:#b0b0b4"></div><div style="position:absolute;left:245px;top:1299px;width:8px;height:7px;background:#c4c4c6"></div>
<div class="a td" style="left:355.5px;top:1293px">387</div>

<!-- Volume card -->
<div class="a" style="left:521px;width:907px;top:1125.5px;font-size:19.2px;line-height:22px;font-weight:bold;color:#35393e;text-align:center;letter-spacing:0.8px;-webkit-text-stroke:0.3px #fff">Volume</div>
<div class="a" style="left:521px;width:907px;top:1160px;font-size:16px;line-height:18px;font-weight:bold;color:#7f838a;text-align:center;-webkit-text-stroke:0.3px #fff">How much email per category?</div>
<div class="a" style="left:556px;top:1215px;font-size:11.3px;line-height:12px;color:#555;letter-spacing:0.4px">1250</div>
<div style="position:absolute;left:598px;top:1219px;width:806px;height:1px;background:#e6e6e6"></div>
<div class="a" style="left:556px;top:1278px;font-size:11.3px;line-height:12px;color:#555;letter-spacing:0.4px">1000</div>
<div style="position:absolute;left:598px;top:1283px;width:806px;height:1px;background:#e6e6e6"></div>
<div style="position:absolute;left:1082px;top:1285px;width:53px;height:60px;background:#67bd76;z-index:2"></div>

<div style="position:absolute;left:0;top:1270px;width:1482px;height:64px;background:linear-gradient(180deg,rgba(40,40,60,0) 0%,rgba(40,40,60,.025) 45%,rgba(40,40,60,.06) 72%,rgba(40,40,60,.1) 100%)"></div>
</body></html>
